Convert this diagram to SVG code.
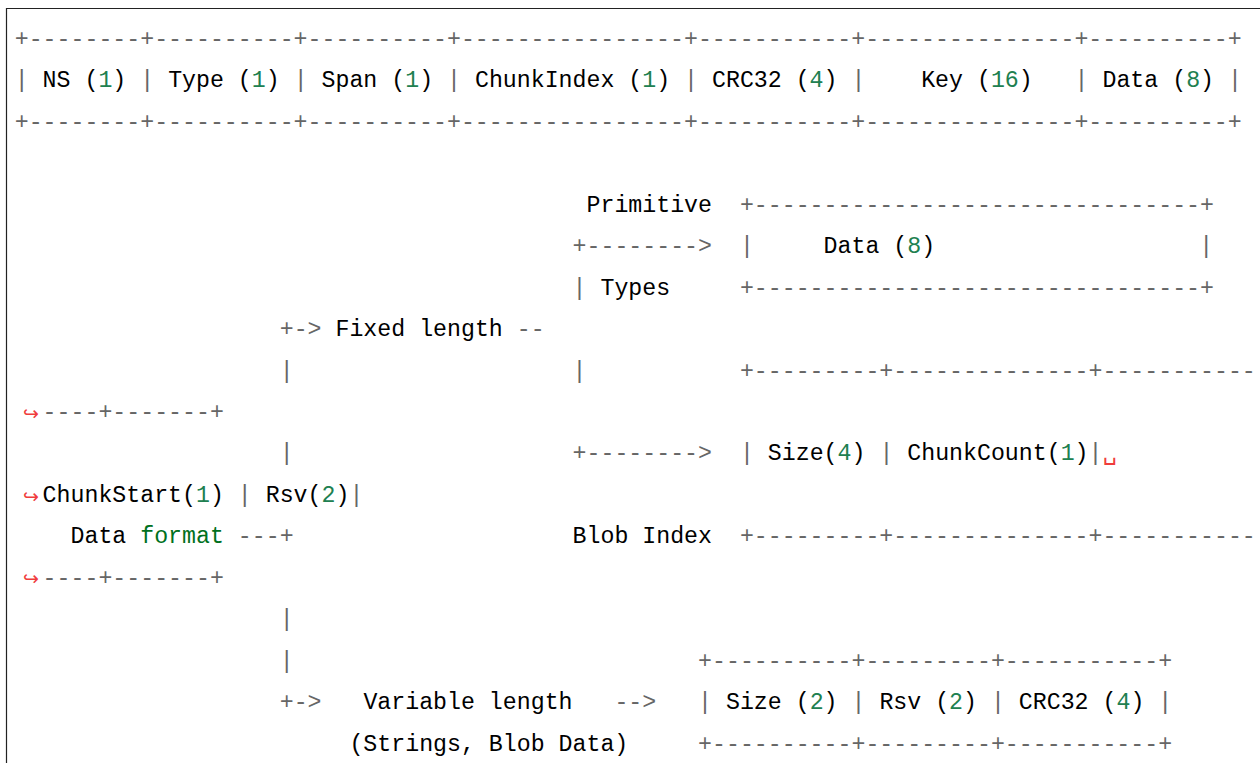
<svg xmlns="http://www.w3.org/2000/svg" width="1260" height="763" viewBox="0 0 1260 763" xml:space="preserve">
<style>
text{font-family:"Liberation Mono","DejaVu Sans Mono",monospace;font-size:23.24px;fill:#000;white-space:pre}
.o{fill:#666666}
.n{fill:#208050}
.k{fill:#007020}
.hk{font-family:"DejaVu Sans",sans-serif;font-size:19px;fill:#f03c3c}
.vs{fill:#f03c3c}
</style>
<rect x="0" y="0" width="1260" height="763" fill="#ffffff"/>
<path d="M6.5,763 V8.5 H1260" fill="none" stroke="#222222" stroke-width="1.2"/>
<g id="header-table">
<text x="14.73" y="45.7" class="o">+--------+----------+----------+----------------+-----------+---------------+----------+</text>
<text x="14.73" y="87.2"><tspan class="o">|</tspan> NS (<tspan class="n">1</tspan>) <tspan class="o">|</tspan> Type (<tspan class="n">1</tspan>) <tspan class="o">|</tspan> Span (<tspan class="n">1</tspan>) <tspan class="o">|</tspan> ChunkIndex (<tspan class="n">1</tspan>) <tspan class="o">|</tspan> CRC32 (<tspan class="n">4</tspan>) <tspan class="o">|</tspan>    Key (<tspan class="n">16</tspan>)   <tspan class="o">|</tspan> Data (<tspan class="n">8</tspan>) <tspan class="o">|</tspan></text>
<text x="14.73" y="128.6" class="o">+--------+----------+----------+----------------+-----------+---------------+----------+</text>
</g>
<g id="data-format">
<text x="70.51" y="543.3">Data <tspan class="k">format</tspan></text>
</g>
<g id="fixed-length">
<text x="335.49" y="336.0">Fixed length</text>
</g>
<g id="primitive-types">
<text x="586.52" y="211.6">Primitive</text>
<text x="600.46" y="294.5">Types</text>
</g>
<g id="primitive-box">
<text x="739.92" y="211.6" class="o">+--------------------------------+</text>
<text x="739.92" y="253.1" class="o">|</text>
<text x="823.6" y="253.1">Data (<tspan class="n">8</tspan>)</text>
<text x="1199.3" y="253.1" class="o">|</text>
<text x="739.92" y="294.5" class="o">+--------------------------------+</text>
</g>
<g id="blob-index-label">
<text x="572.57" y="543.3">Blob Index</text>
</g>
<g id="blob-index-box">
<text x="739.92" y="377.5" class="o">+---------+--------------+-----------</text>
<text x="23" y="419.5" class="hk">↪</text>
<text x="42.62" y="418.9" class="o">----+-------+</text>
<text x="739.92" y="460.4"><tspan class="o">|</tspan> Size(<tspan class="n">4</tspan>) <tspan class="o">|</tspan> ChunkCount(<tspan class="n">1</tspan>)<tspan class="o">|</tspan><tspan class="vs">␣</tspan></text>
<text x="23" y="502.5" class="hk">↪</text>
<text x="42.62" y="501.9">ChunkStart(<tspan class="n">1</tspan>) <tspan class="o">|</tspan> Rsv(<tspan class="n">2</tspan>)<tspan class="o">|</tspan></text>
<text x="739.92" y="543.3" class="o">+---------+--------------+-----------</text>
<text x="23" y="585.4" class="hk">↪</text>
<text x="42.62" y="584.8" class="o">----+-------+</text>
</g>
<g id="variable-length">
<text x="363.38" y="709.2">Variable length</text>
<text x="349.43" y="750.7">(Strings, Blob Data)</text>
</g>
<g id="variable-box">
<text x="698.08" y="667.7" class="o">+----------+---------+-----------+</text>
<text x="698.08" y="709.2"><tspan class="o">|</tspan> Size (<tspan class="n">2</tspan>) <tspan class="o">|</tspan> Rsv (<tspan class="n">2</tspan>) <tspan class="o">|</tspan> CRC32 (<tspan class="n">4</tspan>) <tspan class="o">|</tspan></text>
<text x="698.08" y="750.7" class="o">+----------+---------+-----------+</text>
</g>
<g id="connectors" class="o">
<text x="279.71" y="336.0" class="o">+-&gt;</text>
<text x="516.79" y="336.0" class="o">--</text>
<text x="279.71" y="377.5" class="o">|</text>
<text x="572.57" y="377.5" class="o">|</text>
<text x="572.57" y="253.1" class="o">+--------&gt;</text>
<text x="572.57" y="294.5" class="o">|</text>
<text x="279.71" y="460.4" class="o">|</text>
<text x="572.57" y="460.4" class="o">+--------&gt;</text>
<text x="237.87" y="543.3" class="o">---+</text>
<text x="279.71" y="626.3" class="o">|</text>
<text x="279.71" y="667.7" class="o">|</text>
<text x="279.71" y="709.2" class="o">+-&gt;</text>
<text x="614.41" y="709.2" class="o">--&gt;</text>
</g>
</svg>
